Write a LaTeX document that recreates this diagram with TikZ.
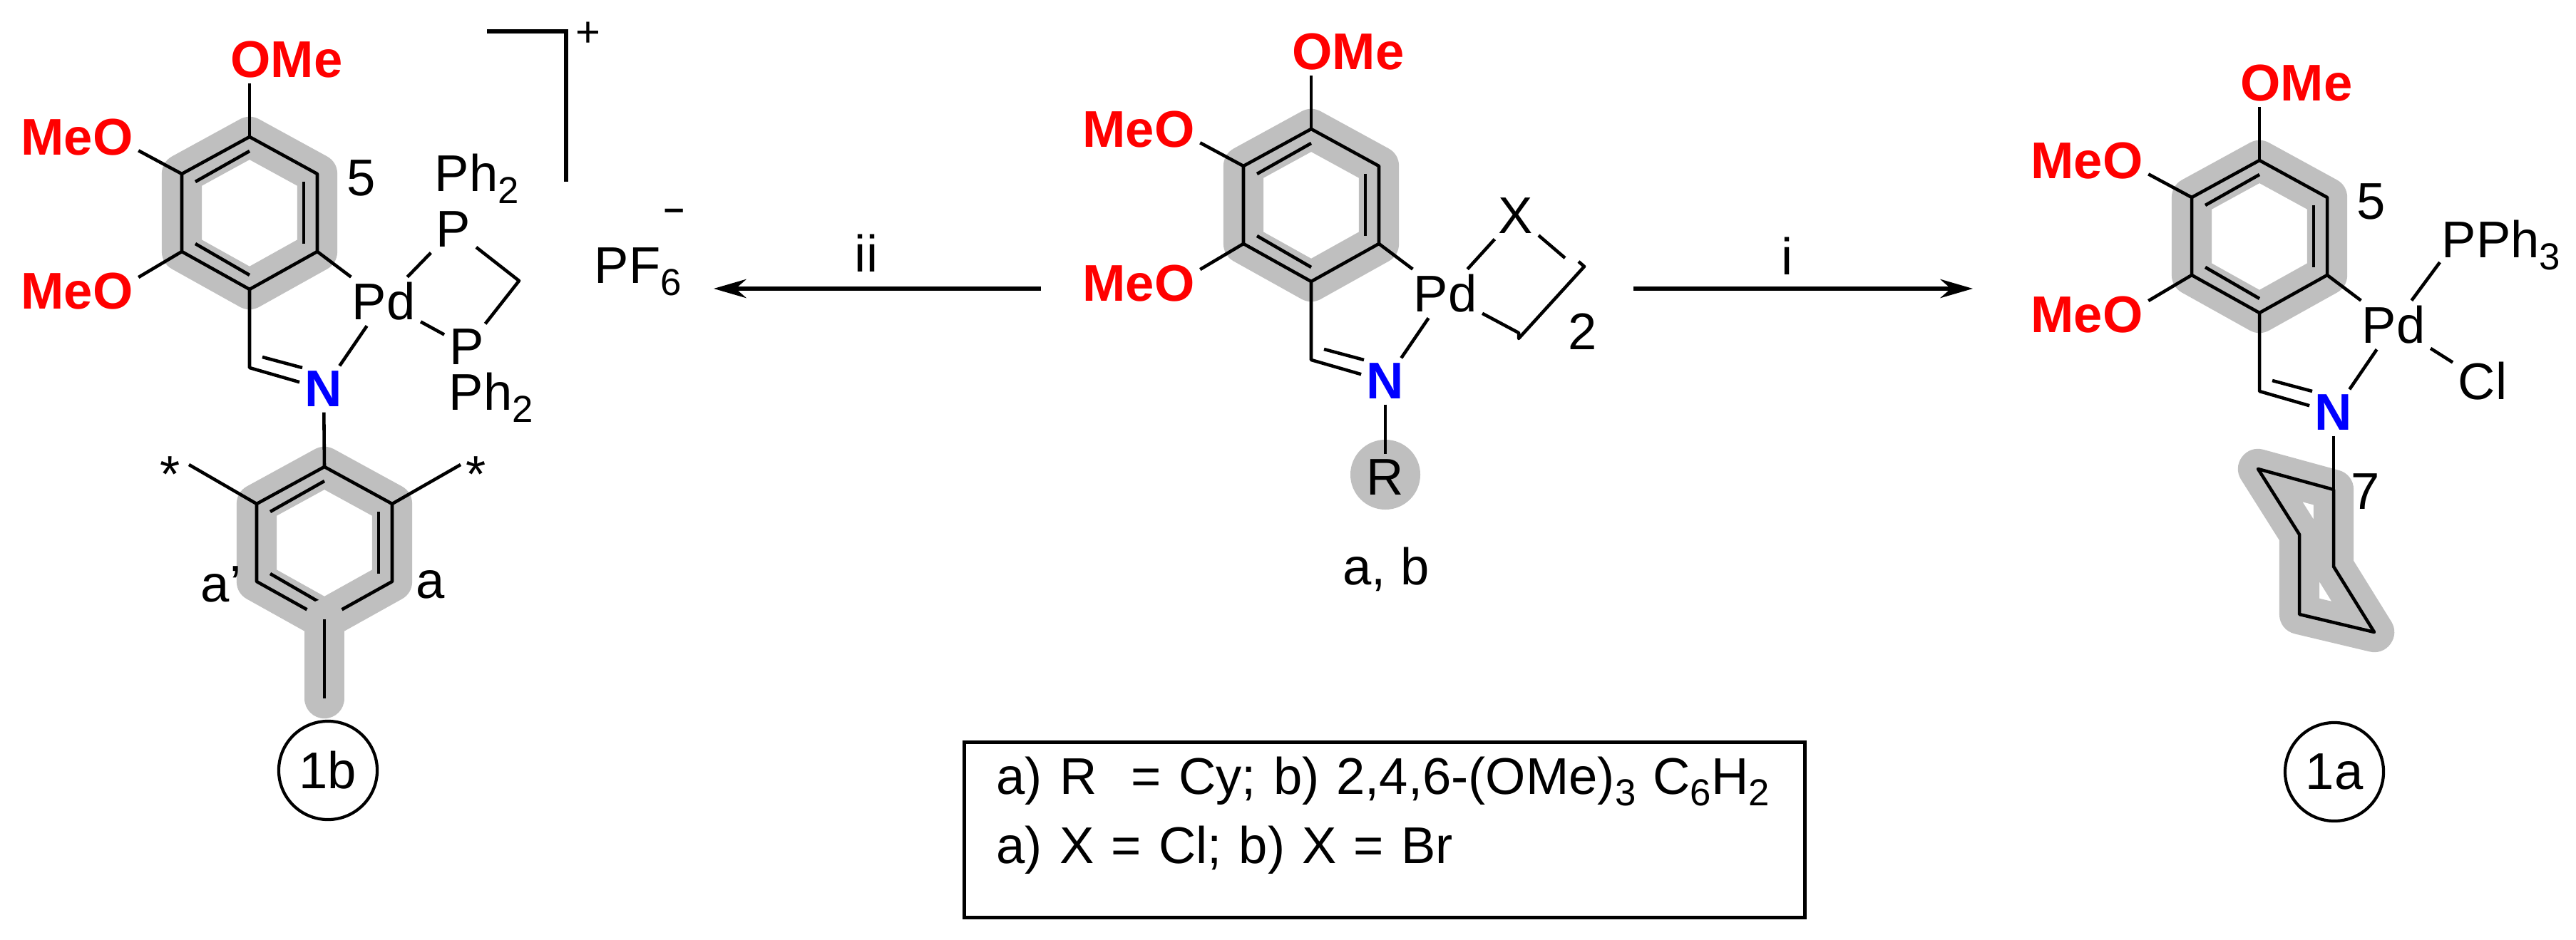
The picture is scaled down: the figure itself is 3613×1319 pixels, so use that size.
\documentclass[tikz,border=0pt]{standalone}
\usepackage{fontspec}
\setmainfont{Liberation Sans}
\usepackage{tikz}
\usetikzlibrary{arrows.meta,positioning,calc}

\newcommand{\labelfont}{\fontsize{20.6}{24}\selectfont}
\newcommand{\lowdig}[1]{\raisebox{-4.6pt}{\fontsize{15}{16}\selectfont #1}}

\newcommand{\phring}[3]{%
\begin{scope}[shift={(#2,#3)}]
\coordinate (#1t) at (0,0);
\coordinate (#1ur) at (95,52);
\coordinate (#1lr) at (95,161);
\coordinate (#1b) at (0,214);
\coordinate (#1ll) at (-95,161);
\coordinate (#1ul) at (-95,52);
\coordinate (#1d1) at (-76,63);
\coordinate (#1d2) at (0,20);
\coordinate (#1d3) at (76,63);
\coordinate (#1d4) at (76,150);
\coordinate (#1d5) at (-76,150);
\coordinate (#1d6) at (0,194);
\draw[halo] (#1t) -- (#1ur) -- (#1lr) -- (#1b) -- (#1ll) -- (#1ul) -- cycle;
\draw[bond] (#1t) -- (#1ur) -- (#1lr) -- (#1b) -- (#1ll) -- (#1ul) -- cycle;
\draw[bond] (#1d1) -- (#1d2);
\draw[bond] (#1d3) -- (#1d4);
\draw[bond] (#1d5) -- (#1d6);
\end{scope}}

\newcommand{\arylpd}[3]{%
\phring{#1}{#2}{#3}
\begin{scope}[shift={(#2,#3)}]
\node (#1ome) [hetero] at (52,-108) {OMe};
\node (#1mo1) [hetero] at (-242,1) {MeO};
\node (#1mo2) [hetero] at (-242,217) {MeO};
\node (#1pd) at (188,231) {Pd};
\node (#1n) [nitro] at (104,354) {N};
\coordinate (#1ci) at (0,324);
\coordinate (#1e1) at (18,309);
\coordinate (#1e2) at (74,324);
\draw[bond] (#1t) -- (#1ome.south -| #1t);
\draw[bond] (#1ul) -- (#1mo1.-12);
\draw[bond] (#1ll) -- (#1mo2.13);
\draw[bond] (#1lr) -- (#1pd);
\draw[bond] (#1b) -- (#1ci) -- (#1n);
\draw[bond] (#1e1) -- (#1e2);
\draw[bond] (#1n) -- (#1pd);
\end{scope}}

\begin{document}
\begin{tikzpicture}[x=0.01cm, y=-0.01cm, >={Stealth[length=13pt,width=7.5pt]},
  every node/.style={inner sep=2pt, font=\labelfont},
  bond/.style={line width=1.3pt, line join=round},
  halo/.style={line width=16pt, line join=round, line cap=round, draw=ringgray},
  hetero/.style={text=red, font=\labelfont\bfseries},
  nitro/.style={text=blue, font=\labelfont\bfseries},
  rxn/.style={line width=1.5pt, ->},
  compound/.style={circle, draw, line width=1.2pt, minimum size=1.38cm, inner sep=0pt}]
\definecolor{ringgray}{HTML}{BFBFBF}
\useasboundingbox (0,0) rectangle (3613,1319);

\arylpd{L}{350}{192}
\node (L5) at (507,250) {5};
\node (Lp1) at (636,322) {P};
\node (Lp2) at (655,487) {P};
\node (Lph1) [anchor=base west] at (602,269) {Ph\lowdig{2}};
\node (Lph2) [anchor=base west] at (622,576) {Ph\lowdig{2}};
\coordinate (Lch) at (728,394);
\draw[bond] (Lpd) -- (Lp1) -- (Lch) -- (Lp2) -- (Lpd);
\phring{Q}{455}{655}
\coordinate (Qme) at (455,980);
\draw[halo] (Qb) -- (Qme);
\draw[bond] (Qb) -- (Qme);
\draw[bond] (Ln) -- (Qt);
\node (Qa1) at (310,820) {a'};
\node (Qa2) at (604,820) {a};
\node (Qs1) at (239,666) {*};
\node (Qs2) at (668,666) {*};
\coordinate (Qe1) at (265,652);
\coordinate (Qe2) at (646,652);
\draw[bond] (Qul) -- (Qe1);
\draw[bond] (Qur) -- (Qe2);
\node (cpd1b) [compound] at (460,1081) {1b};
\coordinate (bk1) at (683,44);
\coordinate (bk2) at (794,44);
\coordinate (bk3) at (794,255);
\draw[line width=1.6pt] (bk1) -- (bk2) -- (bk3);
\node (plus) [font=\fontsize{17}{18}\selectfont] at (825,48) {+};
\node (pf6) [anchor=base west] at (826,398) {PF\lowdig{6}};
\node (minus) [font=\fontsize{14.5}{16}\selectfont\bfseries] at (946,301) {–};

\arylpd{C}{1839}{181}
\node (Cx) at (2126,303) {X};
\coordinate (Cq0) at (2195,362);
\coordinate (Cq1) at (2214,367);
\coordinate (Cq2) at (2222,374);
\coordinate (Cq3) at (2130,475);
\coordinate (Cq4) at (2130,467);
\draw[bond] (Cpd) -- (Cx) -- (Cq0);
\draw[bond] (Cq1) -- (Cq2) -- (Cq3) -- (Cq4) -- (Cpd);
\node (C2) at (2220,465) {2};
\node (Cr) [circle, fill=ringgray, minimum size=0.98cm, inner sep=0pt] at (1943,666) {};
\node (Crt) at (1943,670) {R};
\draw[bond] (Cn) -- (Cr.center |- Crt.north);
\node (Cab) [anchor=base] at (1944,820) {a, b};

\coordinate (ts) at (1460,405);
\coordinate (te) at (1001,405);
\coordinate (us) at (2291,405);
\coordinate (ue) at (2767,405);
\draw[rxn] (ts) -- (te);
\draw[rxn] (us) -- (ue);
\node (lii) at (1215,355) {ii};
\node (li) at (2507,359) {i};

\arylpd{R}{3169}{225}
\node (R5) at (3326,283) {5};
\node (Rpp) [anchor=base west] at (3417,362) {PPh\lowdig{3}};
\coordinate (Rpb) at (3422,368);
\node (Rcl) at (3482,535) {Cl};
\draw[bond] (Rpd) -- (Rpb);
\draw[bond] (Rpd) -- (Rcl);
\coordinate (Rc1) at (3273,687);
\coordinate (Rc2) at (3273,795);
\coordinate (Rc3) at (3330,887);
\coordinate (Rc4) at (3225,862);
\coordinate (Rc5) at (3225,750);
\coordinate (Rc6) at (3167,658);
\draw[halo] (Rc1) -- (Rc2) -- (Rc3) -- (Rc4) -- (Rc5) -- (Rc6) -- cycle;
\draw[bond] (Rc1) -- (Rc2) -- (Rc3) -- (Rc4) -- (Rc5) -- (Rc6) -- cycle;
\draw[bond] (Rn) -- (Rc1);
\node (R7) at (3318,690) {7};
\node (cpd1a) [compound] at (3274,1083) {1a};

\node (legend) [draw, line width=1.5pt, anchor=north west, minimum width=11.78cm, minimum height=2.46cm, text width=10.88cm, inner xsep=0.45cm, inner ysep=0pt, align=left] at (1350,1039) {a) R\ \ = Cy; b) 2,4,6-(OMe)\lowdig{3} C\lowdig{6}H\lowdig{2}\\[3.5pt] a) X = Cl; b) X = Br\\[-8pt]\ };
\end{tikzpicture}
\end{document}
